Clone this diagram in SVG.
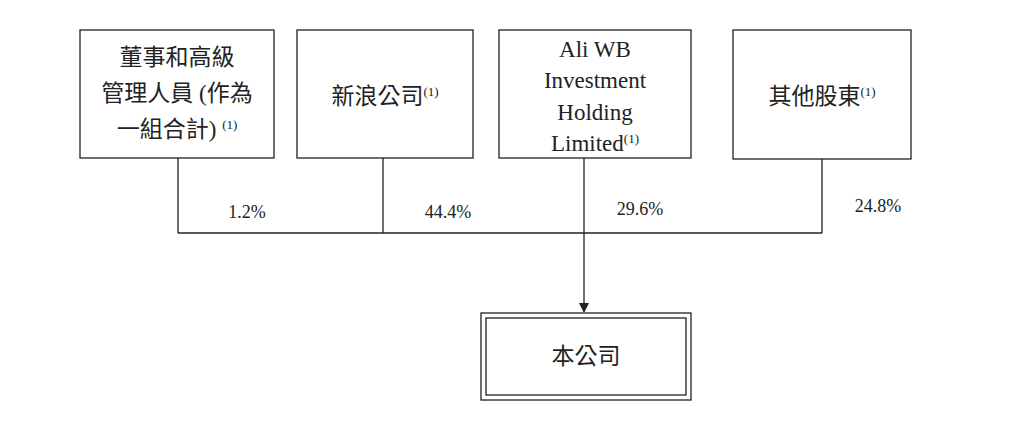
<svg xmlns="http://www.w3.org/2000/svg" width="1025" height="429" viewBox="0 0 1025 429">
<style>
.b{fill:#fff;stroke:#222;stroke-width:1.3}
.t{font-family:"Liberation Serif","Noto Sans CJK TC",serif;font-size:23px;fill:#222;text-anchor:middle}
.s{font-size:13px}
.p{font-family:"Liberation Serif",serif;font-size:18px;fill:#222;text-anchor:middle}
.l{stroke:#222;stroke-width:1.3;fill:none}
</style>
<defs><marker id="a" markerWidth="10" markerHeight="10" refX="9" refY="5" orient="auto" markerUnits="userSpaceOnUse"><path d="M0,0L10,5L0,10z" fill="#222"/></marker></defs>
<rect width="1025" height="429" fill="#fff"/>
<g id="n1"><rect class="b" x="80" y="30" width="194" height="128"/>
<text class="t" x="177" y="65">董事和高級</text>
<text class="t" x="177" y="101">管理人員 (作為</text>
<text class="t" x="177" y="137">一組合計) <tspan class="s" dy="-8">(1)</tspan></text></g>
<g id="n2"><rect class="b" x="297" y="30" width="176" height="128"/>
<text class="t" x="385" y="104">新浪公司<tspan class="s" dy="-8">(1)</tspan></text></g>
<g id="n3"><rect class="b" x="499" y="30" width="192" height="128"/>
<text class="t" x="595" y="57">Ali WB</text>
<text class="t" x="595" y="88">Investment</text>
<text class="t" x="595" y="120">Holding</text>
<text class="t" x="595" y="151">Limited<tspan class="s" dy="-8">(1)</tspan></text></g>
<g id="n4"><rect class="b" x="733" y="30" width="178" height="129"/>
<text class="t" x="822" y="104">其他股東<tspan class="s" dy="-8">(1)</tspan></text></g>
<g id="n5"><rect class="b" x="481" y="313" width="210" height="87"/>
<rect class="b" x="486" y="318" width="200" height="77"/>
<text class="t" x="586" y="364">本公司</text></g>
<g id="edges">
<path class="l" d="M178,158V233M383,158V233M822,159V233M178,233H822"/>
<path class="l" d="M584,158V312" marker-end="url(#a)"/>
<text class="p" x="247" y="218">1.2%</text>
<text class="p" x="448" y="218">44.4%</text>
<text class="p" x="640" y="215">29.6%</text>
<text class="p" x="878" y="212">24.8%</text>
</g>
</svg>
